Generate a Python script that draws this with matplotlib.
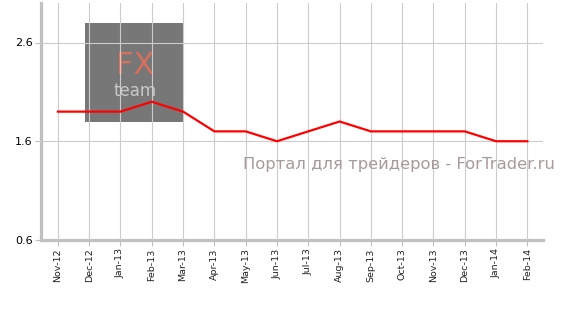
import matplotlib
matplotlib.use("Agg")
import matplotlib.pyplot as plt
from matplotlib.patches import Rectangle

months = ["Nov-12", "Dec-12", "Jan-13", "Feb-13", "Mar-13", "Apr-13", "May-13", "Jun-13",
          "Jul-13", "Aug-13", "Sep-13", "Oct-13", "Nov-13", "Dec-13", "Jan-14", "Feb-14"]
values = [1.9, 1.9, 1.9, 2.0, 1.9, 1.7, 1.7, 1.6, 1.7, 1.8, 1.7, 1.7, 1.7, 1.7, 1.6, 1.6]
yticks = [0.6, 1.6, 2.6]

fig = plt.figure(figsize=(5.62, 3.09), dpi=100)
ax = fig.add_axes([41/562, 69/309, 502/562, 237/309])

x = list(range(len(months)))
ax.plot(x, values, color="#ff0000", lw=1.6, zorder=3)

ax.set_xlim(-0.54, len(months) - 0.5)
ax.set_ylim(0.6, 3.0)
ax.set_xticks(x)
ax.set_xticklabels(months, rotation=90, fontsize=6.8, color="#222222")
ax.set_yticks(yticks)
ax.set_yticklabels([f"{v:.1f}" for v in yticks], fontsize=8, color="#000000")

ax.grid(True, color="#cccccc", lw=0.8, zorder=1)
ax.set_axisbelow(False)
for s in ["top", "right"]:
    ax.spines[s].set_visible(False)
for s in ["left", "bottom"]:
    ax.spines[s].set_color("#c0c0c0")
    ax.spines[s].set_linewidth(2.3)
ax.tick_params(axis="both", length=4, width=0.8, color="#c0c0c0", pad=2)

# watermark box
rect = Rectangle((85/562, 187/309), 99/562, 99/309, transform=fig.transFigure,
                 facecolor="#777777", edgecolor="none", zorder=0.5, clip_on=False)
ax.add_patch(rect)
ax.text(135/562, (309-74)/309, "FX", transform=fig.transFigure, ha="center", va="baseline",
        fontsize=22, color="#d66f5c", family="DejaVu Sans", fontweight="normal", zorder=0.6)
ax.text(135/562, (309-96)/309, "team", transform=fig.transFigure, ha="center", va="baseline",
        fontsize=12, color="#c8c8c8", family="DejaVu Sans", zorder=0.6)

fig.text(555/562, (309-165)/309, "Портал для трейдеров - ForTrader.ru", ha="right", va="center",
         fontsize=11.8, color="#a89a9a")

fig.savefig("out.png", dpi=100)
